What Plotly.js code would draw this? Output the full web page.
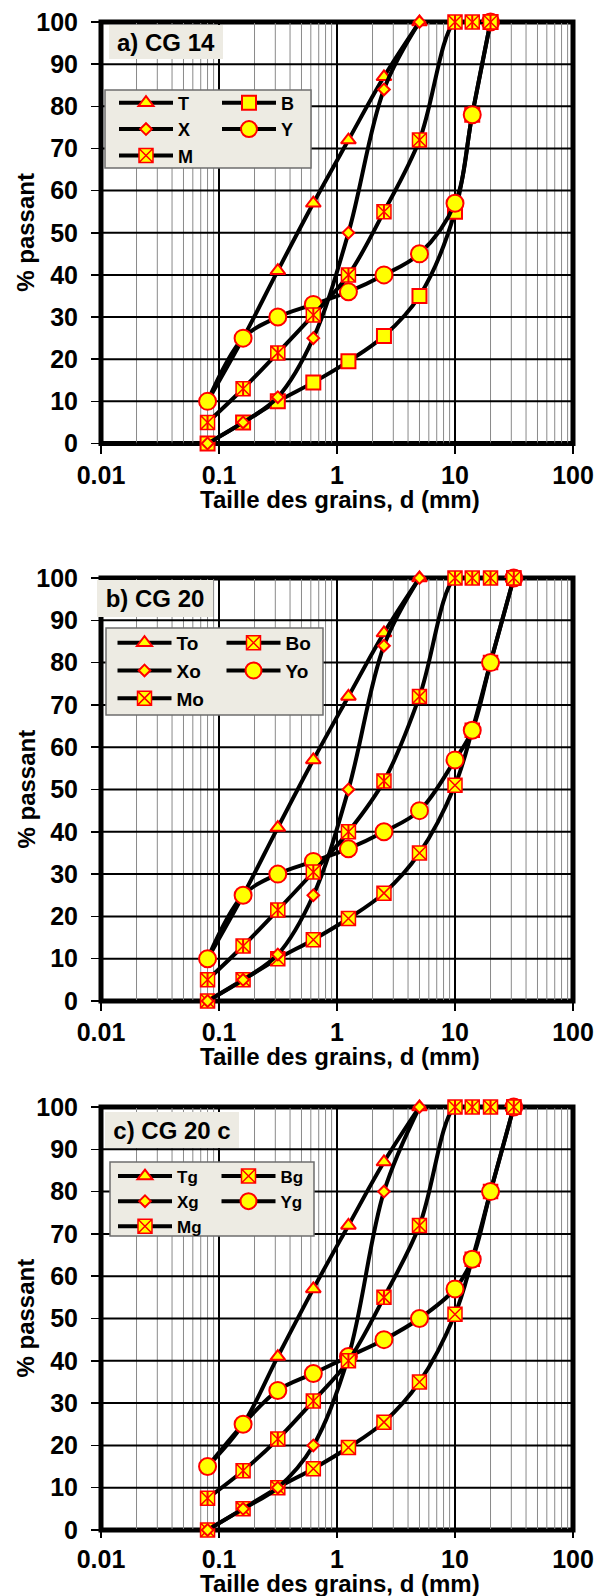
<!DOCTYPE html>
<html>
<head>
<meta charset="utf-8">
<script src="https://cdn.plot.ly/plotly-3.0.1.min.js"></script>
<style>
  html, body { margin: 0; padding: 0; background: #fff; }
  #chart { width: 604px; height: 1596px; }
</style>
</head>
<body>
<div id="chart"></div>
<script>
// Sieve openings (mm)
const sizesA = [0.08, 0.16, 0.315, 0.63, 1.25, 2.5, 5, 10, 14, 20];
const sizesB = [0.08, 0.16, 0.315, 0.63, 1.25, 2.5, 5, 10, 14, 20, 31.5];

// a) CG 14 — % passing
const a_T = [10, 25, 41, 57, 72, 87, 100];
const a_B = [0, 5, 10, 14.5, 19.5, 25.5, 35, 55, 78, 100];
const a_X = [0, 5, 11, 25, 50, 84, 100];
const a_Y = [10, 25, 30, 33, 36, 40, 45, 57, 78, 100];
const a_M = [5, 13, 21.5, 30.5, 40, 55, 72, 100, 100, 100];

// b) CG 20
const b_To = [10, 25, 41, 57, 72, 87, 100];
const b_Bo = [0, 5, 10, 14.5, 19.5, 25.5, 35, 51, 64, 80, 100];
const b_Xo = [0, 5, 11, 25, 50, 84, 100];
const b_Yo = [10, 25, 30, 33, 36, 40, 45, 57, 64, 80, 100];
const b_Mo = [5, 13, 21.5, 30.5, 40, 52, 72, 100, 100, 100, 100];

// c) CG 20 c
const c_Tg = [15, 25, 41, 57, 72, 87, 100];
const c_Bg = [0, 5, 10, 14.5, 19.5, 25.5, 35, 51, 64, 80, 100];
const c_Xg = [0, 5, 10, 20, 41, 80, 100];
const c_Yg = [15, 25, 33, 37, 41, 45, 50, 57, 64, 80, 100];
const c_Mg = [7.5, 14, 21.5, 30.5, 40, 55, 72, 100, 100, 100, 100];

// Axis labels
const xTickVals = [0.01, 0.1, 1, 10, 100];
const xTickText = ['0.01', '0.1', '1', '10', '100'];
const yTickVals = [0, 10, 20, 30, 40, 50, 60, 70, 80, 90, 100];
const xTitle = 'Taille des grains, d (mm)';
const yTitle = '% passant';
const panelLabels = ['a) CG 14', 'b) CG 20', 'c) CG 20 c'];

const YEL = '#FFFF00', RED = '#FF0000', BEIGE = '#EDEBE3';
const FONT = 'Liberation Sans, Arial, Helvetica, sans-serif';

function mk(symbol, size, lw) {
  return { symbol: symbol, size: size, color: YEL, line: { color: RED, width: lw || 2 } };
}
const MK = {
  tri: mk('triangle-up', 13),
  sq: mk('square', 14),
  sqx: mk('square-x', 14, 1.5),
  dia: mk('diamond', 9),
  circ: mk('circle', 17)
};

function series(name, sizes, vals, marker, xa, ya, legend) {
  return {
    type: 'scatter', mode: 'lines+markers', name: name,
    x: sizes.slice(0, vals.length), y: vals,
    xaxis: xa, yaxis: ya, legend: legend,
    line: { color: '#000', width: 4, shape: 'spline', smoothing: 1 },
    marker: marker, cliponaxis: false, hoverinfo: 'skip'
  };
}
// vertical stroke that turns the crossed square into a star
function starBar(sizes, vals, xa, ya) {
  return {
    type: 'scatter', mode: 'markers', showlegend: false,
    x: sizes.slice(0, vals.length), y: vals, xaxis: xa, yaxis: ya,
    marker: { symbol: 'line-ns-open', size: 10, color: RED, line: { color: RED, width: 2 } },
    cliponaxis: false, hoverinfo: 'skip'
  };
}

const panels = [
  { xa: 'x', ya: 'y', legs: ['legend', 'legend2'], sizes: sizesA,
    T: ['T', a_T], B: ['B', a_B, MK.sq], X: ['X', a_X], Y: ['Y', a_Y], M: ['M', a_M] },
  { xa: 'x2', ya: 'y2', legs: ['legend3', 'legend4'], sizes: sizesB,
    T: ['To', b_To], B: ['Bo', b_Bo, MK.sqx], X: ['Xo', b_Xo], Y: ['Yo', b_Yo], M: ['Mo', b_Mo] },
  { xa: 'x3', ya: 'y3', legs: ['legend5', 'legend6'], sizes: sizesB,
    T: ['Tg', c_Tg], B: ['Bg', c_Bg, MK.sqx], X: ['Xg', c_Xg], Y: ['Yg', c_Yg], M: ['Mg', c_Mg] }
];

const traces = [];
panels.forEach(p => {
  const s = p.sizes;
  traces.push(series(p.T[0], s, p.T[1], MK.tri, p.xa, p.ya, p.legs[0]));
  traces.push(series(p.B[0], s, p.B[1], p.B[2], p.xa, p.ya, p.legs[1]));
  traces.push(series(p.X[0], s, p.X[1], MK.dia, p.xa, p.ya, p.legs[0]));
  traces.push(series(p.Y[0], s, p.Y[1], MK.circ, p.xa, p.ya, p.legs[1]));
  traces.push(series(p.M[0], s, p.M[1], MK.sqx, p.xa, p.ya, p.legs[0]));
  traces.push(starBar(s, p.M[1], p.xa, p.ya));
});

// minor grid positions 2..9 in each decade
const minorVals = [];
for (let e = -2; e < 2; e++) for (let k = 2; k <= 9; k++) minorVals.push(k * Math.pow(10, e));

const TICKFONT = { family: FONT, size: 25, color: '#000', weight: 'bold' };
const TITLEFONT = { family: FONT, size: 24, color: '#000', weight: 'bold' };

function xAxis(anchor, tickLen) {
  return {
    type: 'log', range: [-2, 2], anchor: anchor, domain: [0, 1],
    tickmode: 'array', tickvals: xTickVals, ticktext: xTickText,
    ticks: 'outside', ticklen: tickLen, tickwidth: 1.5, tickcolor: '#000',
    tickfont: TICKFONT, showgrid: false,
    showline: false, zeroline: false, fixedrange: true
  };
}
function yAxis(anchor, domain) {
  return {
    range: [0, 100], anchor: anchor, domain: domain,
    tickmode: 'array', tickvals: yTickVals,
    ticks: 'outside', ticklen: 9, tickwidth: 1.5, tickcolor: '#000', ticklabelstandoff: 8,
    tickfont: TICKFONT, showgrid: false,
    showline: false, zeroline: false, fixedrange: true
  };
}

const GS = { l: 101, t: 22, w: 472, h: 1508 };
const px2x = px => (px - GS.l) / GS.w;
const px2y = py => (GS.t + GS.h - py) / GS.h;

function legendAt(xpx, ypx, size) {
  return {
    x: px2x(xpx), y: px2y(ypx), xanchor: 'left', yanchor: 'top',
    orientation: 'v', bgcolor: 'rgba(0,0,0,0)', borderwidth: 0,
    itemwidth: 54, itemclick: false, itemdoubleclick: false,
    font: { family: FONT, size: size, color: '#000', weight: 'bold' }
  };
}

// grid lines, panel frames, legend boxes, panel labels and axis titles
const shapes = [];
const annotations = [];
const xEnds = [xTickVals[0], xTickVals[xTickVals.length - 1]];
const yEnds = [yTickVals[0], yTickVals[yTickVals.length - 1]];
function vLine(xa, ya, v, color, w) {
  return { type: 'line', xref: xa, yref: ya, x0: v, x1: v, y0: yEnds[0], y1: yEnds[1],
    line: { color: color, width: w }, layer: 'below' };
}
function hLine(xa, ya, v, color, w) {
  return { type: 'line', xref: xa, yref: ya, x0: xEnds[0], x1: xEnds[1], y0: v, y1: v,
    line: { color: color, width: w }, layer: 'below' };
}
[['x', 'y'], ['x2', 'y2'], ['x3', 'y3']].forEach(([xa, ya], i) => {
  minorVals.forEach(v => shapes.push(vLine(xa, ya, v, '#8a8a8a', 1)));
  xTickVals.forEach(v => shapes.push(vLine(xa, ya, v, '#000', 2)));
  yTickVals.forEach(v => shapes.push(hLine(xa, ya, v, '#000', 2)));
  shapes.push({ type: 'rect', xref: xa + ' domain', yref: ya + ' domain', x0: 0, x1: 1, y0: 0, y1: 1,
    line: { color: '#000', width: 5 }, fillcolor: 'rgba(0,0,0,0)', layer: 'below' });
  annotations.push({ xref: xa + ' domain', yref: ya + ' domain', x: 0.5, y: 0,
    xanchor: 'center', yanchor: 'middle', yshift: i === 2 ? -53 : -56, xshift: 3, showarrow: false,
    text: xTitle, font: TITLEFONT });
  annotations.push({ xref: 'paper', yref: ya + ' domain', x: px2x(26), y: 0.5,
    xanchor: 'center', yanchor: 'middle', textangle: -90, showarrow: false,
    text: yTitle, font: TITLEFONT });
});
[[105, 90, 311, 168], [106, 628, 323, 715], [110, 1162, 314, 1236]].forEach(b => {
  shapes.push({ type: 'rect', xref: 'paper', yref: 'paper',
    x0: px2x(b[0]), x1: px2x(b[2]), y0: px2y(b[3]), y1: px2y(b[1]),
    line: { color: '#6e6e6e', width: 1.5 }, fillcolor: BEIGE, layer: 'above' });
});
[[109, 25, 114, 34], [97, 580, 116, 37], [105, 1112, 134, 36]].forEach((b, i) => {
  annotations.push({ xref: 'paper', yref: 'paper', x: px2x(b[0]), y: px2y(b[1]),
    xanchor: 'left', yanchor: 'top', showarrow: false, text: panelLabels[i],
    font: TITLEFONT, bgcolor: BEIGE, borderwidth: 0, borderpad: 0,
    width: b[2], height: b[3], align: 'center', valign: 'middle' });
});

const layout = {
  width: 604, height: 1596,
  margin: { l: 101, r: 31, t: 22, b: 66, autoexpand: false },
  paper_bgcolor: '#fff', plot_bgcolor: '#fff',
  font: { family: FONT, color: '#000' },
  showlegend: true,
  xaxis: xAxis('y', 9), yaxis: yAxis('x', [0.72049, 1]),
  xaxis2: xAxis('y2', 9), yaxis2: yAxis('x2', [0.35080, 0.63130]),
  xaxis3: xAxis('y3', 7), yaxis3: yAxis('x3', [0, 0.28050]),
  legend: legendAt(114, 84.5, 18),
  legend2: legendAt(217, 84.5, 18),
  legend3: legendAt(112.5, 623.9, 19),
  legend4: legendAt(221.5, 623.9, 19),
  legend5: legendAt(113, 1158.5, 17),
  legend6: legendAt(216.5, 1158.5, 17),
  shapes: shapes,
  annotations: annotations
};

Plotly.newPlot('chart', traces, layout, { staticPlot: true, displayModeBar: false });
</script>
</body>
</html>
